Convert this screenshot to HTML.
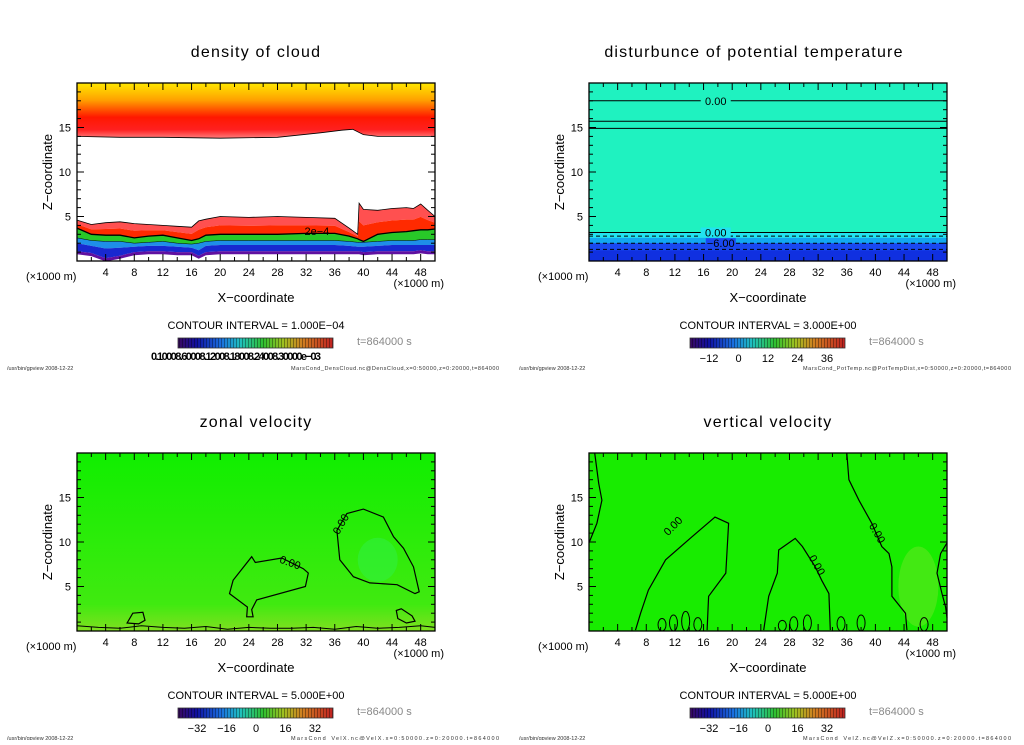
<!DOCTYPE html>
<html><head><meta charset="utf-8"><style>
html,body{margin:0;padding:0;background:#fff;}
svg text{font-family:"Liberation Sans",sans-serif;}
</style></head><body>
<svg id="chart" width="1024" height="740" viewBox="0 0 1024 740" xmlns="http://www.w3.org/2000/svg">
<defs>
<linearGradient id="rainbow" x1="0" x2="1" y1="0" y2="0">
<stop offset="0" stop-color="#3a0860"/><stop offset="0.12" stop-color="#1010a0"/><stop offset="0.28" stop-color="#1a70e0"/><stop offset="0.4" stop-color="#20c0c0"/><stop offset="0.55" stop-color="#30c030"/><stop offset="0.68" stop-color="#a0c020"/><stop offset="0.8" stop-color="#d08020"/><stop offset="1" stop-color="#c02020"/>
</linearGradient>
<pattern id="stripes" width="3" height="10" patternUnits="userSpaceOnUse"><rect x="2" y="0" width="1" height="10" fill="#000" opacity="0.35"/></pattern>
<linearGradient id="upperCloud" gradientUnits="userSpaceOnUse" x1="0" y1="83" x2="0" y2="140">
<stop offset="0" stop-color="#ffe800"/><stop offset="0.3" stop-color="#ffa000"/><stop offset="0.6" stop-color="#ff1800"/><stop offset="0.82" stop-color="#ff2020"/><stop offset="1" stop-color="#ff9090"/>
</linearGradient>
<linearGradient id="zonalBottom" x1="0" y1="0" x2="0" y2="1">
<stop offset="0" stop-color="#10ee00"/><stop offset="0.85" stop-color="#40ea10"/><stop offset="1" stop-color="#80e020"/>
</linearGradient>
</defs>
</svg>
<script>
// ---- data arrays ----
const xTickLabels = [4,8,12,16,20,24,28,32,36,40,44,48];
const zTickLabels = [5,10,15];
const X_MAX = 50, Z_MAX = 20;
// density of cloud
const upperCloudX = [0,6,12,20,28,34,37,38.5,40,42,50];
const upperCloudZ = [14,13.9,13.9,13.8,13.9,14.4,14.7,14.8,14.2,14,14];
const lowerCloudX = [0,2,4,6,8,10,12,14,16,17,18,20,24,28,32,36,38,39.2,39.4,40,42,44,46,47,48,49,50];
const lowerCloudTop = [4.6,4.1,4.3,4.4,4.2,4.1,4.0,3.9,3.8,4.5,4.7,5.0,4.9,5.0,4.9,4.8,3.7,3.0,6.5,5.8,5.7,5.9,6.0,5.9,6.4,5.7,5.0];
const line2e4 = [3.7,3.0,2.9,2.9,2.6,2.8,2.9,2.6,2.3,2.5,2.9,3.0,3.0,3.0,3.1,3.1,2.8,2.5,2.4,2.2,3.0,3.2,3.3,3.4,3.5,3.5,3.6];
const cyanTop = [2.6,2.3,2.2,2.2,2.0,2.1,2.2,2.0,1.9,2.0,2.2,2.3,2.3,2.3,2.3,2.3,2.2,2.1,2.1,2.1,2.2,2.3,2.3,2.3,2.4,2.4,2.4];
const blueTop = [2.0,1.7,1.4,1.5,1.6,1.7,1.7,1.6,1.5,1.2,1.7,1.8,1.8,1.8,1.8,1.8,1.7,1.6,1.6,1.6,1.7,1.8,1.8,1.8,1.8,1.8,1.8];
const cloudBottom = [1.1,0.9,0.3,0.6,1.0,1.1,1.1,1.0,1.0,0.6,1.0,1.1,1.1,1.1,1.1,1.1,1.1,1.1,1.1,1.0,1.1,1.1,1.1,1.1,1.2,1.1,1.1];
// potential temperature: contour levels (z in km)
const ptSolidZ = [18.0,15.7,14.9,3.2];
const ptDashedZ = [2.8,2.0,1.3];
const ptBandZ = [3.2,2.6,2.0,1.2];
const ptBandColor = ['#22e4f0','#12a8f0','#1a48f0','#1030e0'];
// zonal velocity contours (x km, z km)
const zonalAX = [24.4,24.9,28.6,31.6,32.3,31.9,25.1,24.4,24.6,23.7,23.8,21.3,21.8,24.4];
const zonalAZ = [8.35,7.7,8.2,7.0,6.5,5.0,3.5,2.4,1.6,1.6,2.7,4.2,5.7,8.35];
const zonalBX = [36.3,37.7,40.0,42.8,44.2,45.6,47.0,47.8,47.2,44.7,40.9,38.6,36.7,36.3];
const zonalBZ = [11.3,13.2,13.7,12.8,10.6,9.3,7.2,4.4,4.2,5.2,5.4,6.1,8.0,11.3];
const zonalCX = [44.6,45.3,46.8,47.2,46.0,44.8,44.6];
const zonalCZ = [2.3,2.5,1.7,1.1,0.9,1.4,2.3];
const zonalDX = [7.8,9.2,9.5,8.6,7.0,7.8];
const zonalDZ = [2.0,2.1,1.2,0.8,0.9,2.0];
const zonalEX = [0,3,6,9,12,15,18,21,24,27,30,33,36,39,42,45,48,50];
const zonalEZ = [0.6,0.4,0.3,0.6,0.4,0.3,0.5,0.2,0.4,0.3,0.3,0.4,0.2,0.5,0.3,0.4,0.6,0.4];
// vertical velocity contours
const vertAX = [0.8,1.35,1.8,1.1,0];
const vertAZ = [20,16.6,14.7,12.1,9.9];
const vertBX = [6.5,7.2,8.3,10.7,14.4,17.6,19.5,19.1,16.7,16.5];
const vertBZ = [0.1,2.0,4.6,8.0,10.6,12.8,12.1,6.5,3.9,0.1];
const vertCX = [24.4,25.1,26.3,26.5,28.8,29.8,31.6,32.5,33.5,33.7];
const vertCZ = [0.1,3.9,6.5,9.1,10.4,9.5,7.2,5.7,4.2,0.1];
const vertDX = [36.0,36.3,37.7,39.5,40.9,41.9,42.3,42.3,44.2,44.4];
const vertDZ = [20,17.0,14.7,12.1,9.5,8.7,7.2,3.9,2.0,0.1];
const vertEX = [50,49.1,48.6,49.3,49.8,50];
const vertEZ = [9.9,8.7,6.5,4.2,2.7,1.5];
const vertLoopX = [10.2,11.8,13.5,15.2,27.0,28.6,30.5,35.2,38.0,46.8];
const vertLoopZ = [1.4,1.8,2.2,1.5,1.2,1.6,1.8,1.6,1.8,1.5];
// colorbar tick labels
const ptBarLabels = ['\u221212','0','12','24','36'];
const velBarLabels = ['\u221232','\u221216','0','16','32'];

// ---- helpers ----
const NS = 'http://www.w3.org/2000/svg';
const svg = document.getElementById('chart');
function el(tag, attrs, parent){ const e=document.createElementNS(NS,tag); for(const k in attrs) e.setAttribute(k,attrs[k]); (parent||svg).appendChild(e); return e; }
function txt(s, attrs, parent){ const t=el('text',attrs,parent); t.textContent=s; return t; }
const PW=358, PH=178;
function makeAxes(ox, oy){ return { sx: x=>ox + x/X_MAX*PW, sz: z=>oy+PH - z/Z_MAX*PH }; }
function pathFrom(ax, xs, zs, close){ let d=''; xs.forEach((x,i)=>{ d+=(i?'L':'M')+ax.sx(x).toFixed(1)+','+ax.sz(zs[i]).toFixed(1); }); return d+(close?'Z':''); }
function bandPath(ax, xs, top, bot){ let d=''; xs.forEach((x,i)=>{ d+=(i?'L':'M')+ax.sx(x).toFixed(1)+','+ax.sz(top[i]).toFixed(1); }); for(let i=xs.length-1;i>=0;i--) d+='L'+ax.sx(xs[i]).toFixed(1)+','+ax.sz(bot[i]).toFixed(1); return d+'Z'; }

function frame(g, ox, oy, title, titleX, barX, barLabels, interval, footerR){
  const ax = makeAxes(ox,oy);
  const box = el('rect',{x:ox,y:oy,width:PW,height:PH,fill:'none',stroke:'#000','stroke-width':1.3},g);
  
  
  for(let x=2;x<X_MAX;x+=2){ const L = x%4===0?7:4;
    el('line',{x1:ax.sx(x),x2:ax.sx(x),y1:oy,y2:oy+L,stroke:'#000','stroke-width':1},g);
    el('line',{x1:ax.sx(x),x2:ax.sx(x),y1:oy+PH,y2:oy+PH-L,stroke:'#000','stroke-width':1},g); }
  for(let z=1;z<Z_MAX;z++){ const L = z%5===0?7:4;
    el('line',{x1:ox,x2:ox+L,y1:ax.sz(z),y2:ax.sz(z),stroke:'#000','stroke-width':1},g);
    el('line',{x1:ox+PW,x2:ox+PW-L,y1:ax.sz(z),y2:ax.sz(z),stroke:'#000','stroke-width':1},g); }
  xTickLabels.forEach(v=>{ const t=txt(String(v),{x:ax.sx(v),y:oy+PH+15,'font-size':11,'text-anchor':'middle'},g);
    
     });
  zTickLabels.forEach(v=>{ const t=txt(String(v),{x:ox-6,y:ax.sz(v)+4,'font-size':11,'text-anchor':'end'},g);
    
     });
  const u1=txt('(\u00d71000 m)',{x:ox-51,y:oy+PH+19,'font-size':11},g);
  
  
  const u2=txt('(\u00d71000 m)',{x:ox+PW+9,y:oy+PH+26,'font-size':11,'text-anchor':'end'},g);
  
  
  const xt=txt('X\u2212coordinate',{x:ox+PW/2,y:oy+PH+41,'font-size':13,'text-anchor':'middle'},g);
  
  
  const zt=txt('Z\u2212coordinate',{x:0,y:0,'font-size':13,'text-anchor':'middle',transform:`translate(${ox-25},${oy+PH/2}) rotate(-90)`},g);
  
  
  const tt=txt(title,{x:titleX,y:oy-26,'font-size':16,'text-anchor':'middle','letter-spacing':'1.2'},g);
  
  
  const ci=txt('CONTOUR INTERVAL = '+interval,{x:barX+78,y:oy+PH+68,'font-size':11,'text-anchor':'middle'},g);
  
  
  const cb=el('g',{},g);
  
  
  el('rect',{x:barX,y:oy+PH+77,width:155,height:10,fill:'url(#rainbow)'},cb);
  el('rect',{x:barX,y:oy+PH+77,width:155,height:10,fill:'url(#stripes)',stroke:'#333','stroke-width':0.8},cb);
  if(barLabels){ barLabels.forEach((s,i)=>{ const t=txt(s,{x:barX+19+i*29.5,y:oy+PH+101,'font-size':11,'text-anchor':'middle'},cb);
    
     }); }
  const tm=txt('t=864000  s',{x:barX+179,y:oy+PH+84,'font-size':11,fill:'#888'},g);
  
  
  const f1=txt('/usr/bin/gpview   2008-12-22',{x:ox-70,y:oy+PH+109,'font-size':5.5,fill:'#333'},g);
  
  
  const f2=txt(footerR,{x:ox+214,y:oy+PH+109,'font-size':5.5,fill:'#333',textLength:208},g);
  
  
  return ax;
}
function contour(g, ax, xs, zs, close, w, name){
  const p=el('path',{d:pathFrom(ax,xs,zs,close),fill:'none',stroke:'#000','stroke-width':w||1.2},g);
  
  
  return p;
}
function label(g, ax, x, z, rot, s){
  const t=txt(s,{x:0,y:0,'font-size':11,'text-anchor':'middle',transform:`translate(${ax.sx(x)},${ax.sz(z)}) rotate(${rot})`},g);
  
  
}
function panel(name){ const g=el('g',{});   return g; }

// ---- Panel 1: density of cloud ----
{
  const g=panel('density-of-cloud-panel');
  const ax=makeAxes(77,83);
  const fg=el('g',{},g);
  const top20 = upperCloudX.map(()=>Z_MAX);
  const up=el('path',{d:bandPath(ax,upperCloudX,top20,upperCloudZ),fill:'url(#upperCloud)'},fg);
  
  
  contour(fg,ax,upperCloudX,upperCloudZ,false,0.8,'upper-cloud-edge');
  const mid = lowerCloudTop.map((t,i)=>(t+line2e4[i])/2);
  const layers=[[lowerCloudTop,mid,'#ff5050','red-layer'],[mid,line2e4,'#ff2a00','red-core-layer'],[line2e4,cyanTop,'#28c828','green-layer'],[cyanTop,blueTop,'#1e8ee8','cyan-layer'],[blueTop,cloudBottom,'#1828d0','blue-layer']];
  layers.forEach(L=>{ const p=el('path',{d:bandPath(ax,lowerCloudX,L[0],L[1]),fill:L[2]},fg);
    
     });
  const pb = cloudBottom.map(v=>v-0.35);
  const pp=el('path',{d:bandPath(ax,lowerCloudX,cloudBottom,pb),fill:'#6010a0'},fg);
  
  
  contour(fg,ax,lowerCloudX,lowerCloudTop,false,0.8,'lower-cloud-edge');
  contour(fg,ax,lowerCloudX,line2e4,false,1.3,'contour-2e-4');
  contour(fg,ax,lowerCloudX,cyanTop,false,0.5,'contour-1e-4');
  label(fg,ax,33.5,2.9,0,'2e\u22124');
  frame(g,77,83,'density of cloud',256,178,null,'1.000E\u221204','MarsCond_DensCloud.nc@DensCloud,x=0:50000,z=0:20000,t=864000');
  const bl=txt('0.10008.60008.12008.18008.24008.30000e\u221203',{x:236,y:360,'font-size':11,'text-anchor':'middle','font-weight':'bold',textLength:170},g);
  
  
}
// ---- Panel 2: potential temperature ----
{
  const g=panel('potential-temperature-panel');
  const ax=makeAxes(589,83);
  const bg=el('rect',{x:589,y:83,width:PW,height:PH,fill:'#1ff2c0'},g);
  
  
  ptBandZ.forEach((z,i)=>{ const r=el('rect',{x:589,y:ax.sz(z),width:PW,height:ax.sz(0)-ax.sz(z),fill:ptBandColor[i]},g);
    
     });
  ptSolidZ.forEach(z=>{ const l=el('line',{x1:589,x2:947,y1:ax.sz(z),y2:ax.sz(z),stroke:'#000','stroke-width':1},g);
    
     });
  ptDashedZ.forEach(z=>{ const l=el('line',{x1:589,x2:947,y1:ax.sz(z),y2:ax.sz(z),stroke:'#000','stroke-width':1,'stroke-dasharray':'4,3'},g);
    
     });
  [[18.0,'0.00','#1ff2c0',17.7],[3.2,'0.00','#22e4f0',17.7],[2.0,'\u22126.00','#1a48f0',18.4]].forEach(a=>{
    const y=ax.sz(a[0]);
    const cx=ax.sx(a[3]);
    el('rect',{x:cx-15,y:y-5,width:30,height:10,fill:a[2]},g);
    label(g,ax,a[3],a[0]-0.45,0,a[1]); });
  frame(g,589,83,'disturbunce of potential temperature',754,690,ptBarLabels,'3.000E+00','MarsCond_PotTemp.nc@PotTempDist,x=0:50000,z=0:20000,t=864000');
}
// ---- Panel 3: zonal velocity ----
{
  const g=panel('zonal-velocity-panel');
  const ax=makeAxes(77,453);
  const bg=el('rect',{x:77,y:453,width:PW,height:PH,fill:'url(#zonalBottom)'},g);
  
  
  el('ellipse',{cx:ax.sx(42),cy:ax.sz(8),rx:20,ry:22,fill:'#30f040',opacity:0.6},g);
  contour(g,ax,zonalAX,zonalAZ,true);
  contour(g,ax,zonalBX,zonalBZ,true);
  contour(g,ax,zonalCX,zonalCZ,true);
  contour(g,ax,zonalDX,zonalDZ,true);
  contour(g,ax,zonalEX,zonalEZ,false,1);
  label(g,ax,29.6,7.3,20,'0.00');
  label(g,ax,37.3,11.8,-60,'0.00');
  frame(g,77,453,'zonal velocity',256,178,velBarLabels,'5.000E+00','MarsCond_VelX.nc@VelX,x=0:50000,z=0:20000,t=864000');
}
// ---- Panel 4: vertical velocity ----
{
  const g=panel('vertical-velocity-panel');
  const ax=makeAxes(589,453);
  const bg=el('rect',{x:589,y:453,width:PW,height:PH,fill:'#18ec00'},g);
  
  
  el('ellipse',{cx:ax.sx(46),cy:ax.sz(5),rx:20,ry:40,fill:'#60e820',opacity:0.6},g);
  contour(g,ax,vertAX,vertAZ,false);
  contour(g,ax,vertBX,vertBZ,false);
  contour(g,ax,vertCX,vertCZ,false);
  contour(g,ax,vertDX,vertDZ,false);
  contour(g,ax,vertEX,vertEZ,false);
  vertLoopX.forEach((x,i)=>{ const e=el('ellipse',{cx:ax.sx(x),cy:ax.sz(vertLoopZ[i]/2),rx:4,ry:ax.sz(0)-ax.sz(vertLoopZ[i]/2),fill:'none',stroke:'#000','stroke-width':1},g);
    
     });
  label(g,ax,12.1,11.5,-45,'0.00');
  label(g,ax,31.4,7.2,60,'0.00');
  label(g,ax,39.8,10.8,60,'0.00');
  frame(g,589,453,'vertical velocity',768,690,velBarLabels,'5.000E+00','MarsCond_VelZ.nc@VelZ,x=0:50000,z=0:20000,t=864000');
}
</script>
</body></html>
